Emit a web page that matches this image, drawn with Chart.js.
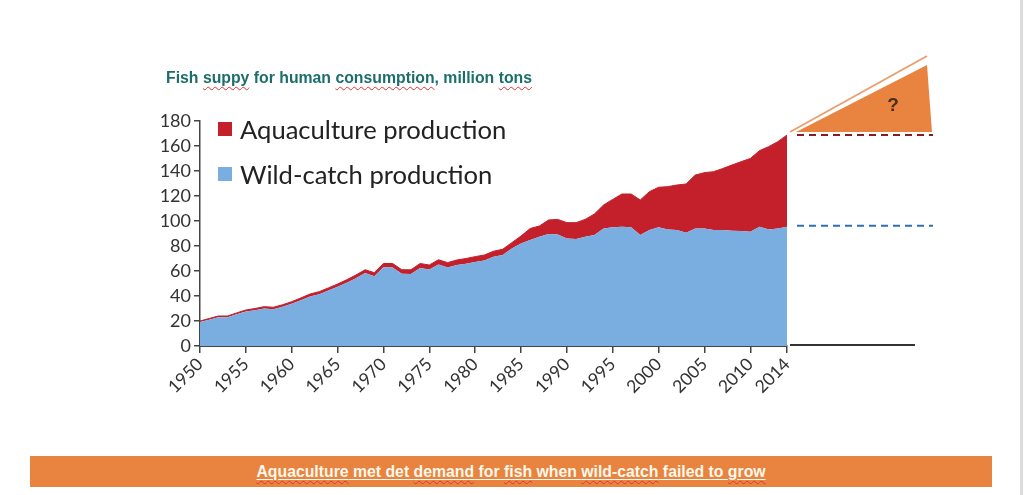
<!DOCTYPE html>
<html>
<head>
<meta charset="utf-8">
<script src="https://cdn.jsdelivr.net/npm/chart.js@4.4.1/dist/chart.umd.min.js"></script>
<style>
  html, body { margin: 0; padding: 0; background: #fff; }
  #wrap { position: relative; width: 1024px; height: 495px; overflow: hidden; }
  #chart { position: absolute; left: 0; top: 0; }
  .title {
    position: absolute; left: 166px; top: 69px;
    font: bold 15.8px "Liberation Sans", Arial, sans-serif; color: #1b6e6c;
    white-space: nowrap;
  }
  .sq { text-decoration: underline wavy #d33; text-decoration-thickness: 1px; text-underline-offset: 3px; }
  #legend { position: absolute; left: 218px; top: 113px; font: 25.6px Lato, sans-serif; color: #222; }
  #legend .item { display: flex; align-items: center; height: 32px; margin-bottom: 13px; white-space: nowrap; }
  #legend .box { width: 14px; height: 14px; margin-right: 8px; }
  .banner {
    position: absolute; left: 30px; top: 456px; width: 962px; height: 31px;
    background: #e8843f; color: #fff8ec; text-align: center;
    font: bold 15.8px "Liberation Sans", Arial, sans-serif; line-height: 31px;
    white-space: nowrap;
  }
  .banner span.all { text-decoration: underline; text-underline-offset: 2px; }
  .edge { position: absolute; left: 1020px; top: 0; width: 3px; height: 495px; background: #dcdcdc; }
</style>
</head>
<body>
<div id="wrap">
  <canvas id="chart" width="1024" height="495"></canvas>
  <div class="title">Fish <span class="sq">suppy</span> for human <span class="sq">consumption</span>, million <span class="sq">tons</span></div>
  <div id="legend"></div>
  <div class="banner"><span class="all"><span class="sq">Aquaculture</span> met det <span class="sq">demand</span> for <span class="sq">fish</span> when <span class="sq">wild-catch</span> failed to <span class="sq">grow</span></span></div>
  <div class="edge"></div>
</div>
<script>
// years on the x axis
const years = Array.from({ length: 65 }, (_, i) => 1950 + i);

// million tons
const wildCatch = [
  19.2, 21.1, 23.0, 23.0, 25.4, 27.6, 28.7, 30.1, 29.5, 31.4,
  33.8, 36.7, 39.7, 41.5, 44.4, 47.4, 50.6, 54.3, 58.4, 55.9,
  63.0, 62.9, 57.8, 57.6, 62.5, 61.2, 65.3, 62.8, 64.8, 65.9,
  67.3, 68.4, 71.5, 72.8, 78.0, 82.0, 84.8, 87.5, 89.6, 89.3,
  86.0, 85.6, 87.5, 88.8, 94.0, 95.0, 95.5, 95.0, 88.8, 92.8,
  95.0, 93.3, 92.8, 90.7, 94.0, 94.0, 92.8, 92.8, 92.3, 92.0,
  91.5, 95.5, 93.3, 94.0, 95.5
];
const aquaculture = [
  0.8, 0.9, 1.0, 1.0, 1.1, 1.2, 1.3, 1.4, 1.5, 1.6,
  1.7, 1.8, 1.9, 2.0, 2.1, 2.2, 2.4, 2.5, 2.6, 2.8,
  3.0, 3.1, 3.2, 3.4, 3.5, 3.6, 3.7, 3.9, 4.0, 4.1,
  4.2, 4.4, 4.3, 4.6, 4.7, 6.0, 9.2, 8.5, 11.2, 12.0,
  12.7, 13.1, 13.8, 16.8, 18.8, 22.3, 26.1, 26.6, 28.0, 30.7,
  32.0, 34.2, 36.0, 38.9, 42.8, 44.7, 46.7, 49.2, 52.5, 55.5,
  58.5, 60.8, 66.2, 69.5, 73.3
];
const yTicks = [0, 20, 40, 60, 80, 100, 120, 140, 160, 180];

const RED = '#c3202b';
const BLUE = '#7baee0';
const ORANGE = '#e8843f';

// dashed level lines, black baseline extension and the "?" triangle to the right
const sideNotes = {
  id: 'sideNotes',
  afterDraw(chart) {
    const { ctx, chartArea: a, scales: { y } } = chart;
    const last = years.length - 1;
    const yTotal = y.getPixelForValue(wildCatch[last] + aquaculture[last]);
    const yWild = y.getPixelForValue(wildCatch[last]);
    ctx.save();
    ctx.lineWidth = 2;
    ctx.setLineDash([7, 5]);
    ctx.strokeStyle = '#8b1c1c';
    ctx.beginPath(); ctx.moveTo(a.right + 10, yTotal); ctx.lineTo(a.right + 146, yTotal); ctx.stroke();
    ctx.strokeStyle = '#2f6fb5';
    ctx.beginPath(); ctx.moveTo(a.right + 10, yWild - 1); ctx.lineTo(a.right + 146, yWild - 1); ctx.stroke();
    ctx.setLineDash([]);
    ctx.strokeStyle = '#333';
    ctx.beginPath(); ctx.moveTo(a.right + 3, a.bottom - 1); ctx.lineTo(a.right + 128, a.bottom - 1); ctx.stroke();

    const base = yTotal - 3;
    ctx.fillStyle = ORANGE;
    ctx.beginPath();
    ctx.moveTo(a.right + 9, base);
    ctx.lineTo(a.right + 140, base - 67);
    ctx.lineTo(a.right + 145, base);
    ctx.closePath();
    ctx.fill();
    ctx.strokeStyle = '#e9a071';
    ctx.lineWidth = 2;
    ctx.beginPath(); ctx.moveTo(a.right + 3, base); ctx.lineTo(a.right + 140, base - 76); ctx.stroke();
    ctx.fillStyle = '#4a2e1c';
    ctx.font = 'bold 19px "Liberation Sans", Arial, sans-serif';
    ctx.textAlign = 'center';
    ctx.textBaseline = 'middle';
    ctx.fillText('?', a.right + 106, base - 26);
    ctx.restore();
  }
};

const ctx = document.getElementById('chart').getContext('2d');
const chart = new Chart(ctx, {
  type: 'line',
  data: {
    labels: years,
    datasets: [
      {
        label: 'Wild-catch production',
        data: wildCatch,
        backgroundColor: BLUE,
        borderColor: BLUE,
        borderWidth: 0,
        pointRadius: 0,
        fill: 'origin',
        tension: 0
      },
      {
        label: 'Aquaculture production',
        data: aquaculture,
        backgroundColor: RED,
        borderColor: RED,
        borderWidth: 1,
        pointRadius: 0,
        fill: '-1',
        tension: 0
      }
    ]
  },
  options: {
    responsive: false,
    animation: false,
    layout: { padding: { left: 150, right: 237, top: 121, bottom: 0 } },
    plugins: {
      legend: { display: false },
      tooltip: { enabled: false }
    },
    scales: {
      x: {
        stacked: true,
        afterFit: (s) => { s.height = 149; },
        grid: { drawOnChartArea: false, drawTicks: true, tickLength: 7, color: '#444', lineWidth: 1.5 },
        border: { display: true, color: '#444', width: 2 },
        ticks: {
          autoSkip: false,
          minRotation: 45,
          maxRotation: 45,
          padding: 1,
          color: '#333',
          font: { family: 'Lato', size: 17.5 },
          callback: function (v, i) {
            const yr = years[i];
            return (yr % 5 === 0 || i === years.length - 1) ? String(yr) : null;
          }
        }
      },
      y: {
        stacked: true,
        min: 0,
        max: 180,
        afterFit: (s) => { s.width = 50; },
        afterBuildTicks: (s) => { s.ticks = yTicks.map(v => ({ value: v })); },
        grid: { drawOnChartArea: false, drawTicks: true, tickLength: 6, color: '#444', lineWidth: 1.5 },
        border: { display: true, color: '#444', width: 1.5 },
        ticks: {
          padding: 3,
          color: '#333',
          font: { family: 'Lato', size: 18 }
        }
      }
    }
  },
  plugins: [sideNotes]
});

// legend built from the datasets, aquaculture first as in the source
const legendEl = document.getElementById('legend');
chart.data.datasets.slice().reverse().forEach(ds => {
  const item = document.createElement('div');
  item.className = 'item';
  item.innerHTML = '<span class="box" style="background:' + ds.backgroundColor + '"></span>' + ds.label;
  legendEl.appendChild(item);
});
</script>
</body>
</html>
